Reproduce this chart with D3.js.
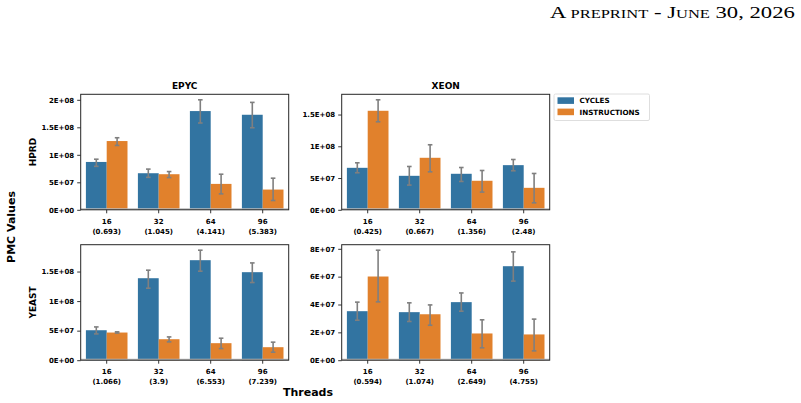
<!DOCTYPE html>
<html>
<head>
<meta charset="utf-8">
<script src="https://cdn.jsdelivr.net/npm/d3@7"></script>
<style>
  body { margin: 0; background: #fff; }
  svg { display: block; }
  text { font-family: "DejaVu Sans", sans-serif; font-weight: bold; fill: #000; }
</style>
</head>
<body>
<svg id="chart" width="801" height="403"></svg>
<script>
// ---- data ----
var threads = ["16", "32", "64", "96"];
var seriesNames = ["CYCLES", "INSTRUCTIONS"];
var seriesColors = ["#3274a1", "#e1812c"];

// HPRD / EPYC
var hprdEpycSpeed = ["0.693", "1.045", "4.141", "5.383"];
var hprdEpycCycles = [0.87e8, 0.665e8, 1.795e8, 1.728e8];
var hprdEpycCyclesErr = [[0.79e8, 0.92e8], [0.59e8, 0.74e8], [1.578e8, 2.0e8], [1.492e8, 1.953e8]];
var hprdEpycInstr = [1.25e8, 0.647e8, 0.471e8, 0.368e8];
var hprdEpycInstrErr = [[1.17e8, 1.31e8], [0.586e8, 0.695e8], [0.29e8, 0.647e8], [0.169e8, 0.575e8]];
var hprdEpycTicks = [0, 5e7, 1e8, 1.5e8, 2e8];
var hprdEpycTickLabels = ["0E+00", "5E+07", "1E+08", "1.5E+08", "2E+08"];

// HPRD / XEON
var hprdXeonSpeed = ["0.425", "0.667", "1.356", "2.48"];
var hprdXeonCycles = [0.661e8, 0.535e8, 0.567e8, 0.703e8];
var hprdXeonCyclesErr = [[0.583e8, 0.74e8], [0.389e8, 0.682e8], [0.446e8, 0.666e8], [0.614e8, 0.792e8]];
var hprdXeonInstr = [1.559e8, 0.819e8, 0.457e8, 0.346e8];
var hprdXeonInstrErr = [[1.386e8, 1.732e8], [0.598e8, 1.024e8], [0.279e8, 0.619e8], [0.11e8, 0.572e8]];
var hprdXeonTicks = [0, 5e7, 1e8, 1.5e8];
var hprdXeonTickLabels = ["0E+00", "5E+07", "1E+08", "1.5E+08"];

// YEAST / EPYC
var yeastEpycSpeed = ["1.066", "3.9", "6.553", "7.239"];
var yeastEpycCycles = [0.507e8, 1.387e8, 1.692e8, 1.489e8];
var yeastEpycCyclesErr = [[0.445e8, 0.563e8], [1.218e8, 1.523e8], [1.506e8, 1.861e8], [1.314e8, 1.646e8]];
var yeastEpycInstr = [0.468e8, 0.355e8, 0.288e8, 0.22e8];
var yeastEpycInstrErr = [[0.46e8, 0.48e8], [0.31e8, 0.394e8], [0.197e8, 0.372e8], [0.135e8, 0.305e8]];
var yeastEpycTicks = [0, 5e7, 1e8, 1.5e8];
var yeastEpycTickLabels = ["0E+00", "5E+07", "1E+08", "1.5E+08"];

// YEAST / XEON
var yeastXeonSpeed = ["0.594", "1.074", "2.649", "4.755"];
var yeastXeonCycles = [3.52e7, 3.45e7, 4.17e7, 6.75e7];
var yeastXeonCyclesErr = [[2.87e7, 4.17e7], [2.78e7, 4.12e7], [3.52e7, 4.83e7], [5.68e7, 7.78e7]];
var yeastXeonInstr = [6.01e7, 3.3e7, 1.92e7, 1.85e7];
var yeastXeonInstrErr = [[4.19e7, 7.9e7], [2.51e7, 3.97e7], [0.89e7, 2.9e7], [0.67e7, 2.95e7]];
var yeastXeonTicks = [0, 2e7, 4e7, 6e7, 8e7];
var yeastXeonTickLabels = ["0E+00", "2E+07", "4E+07", "6E+07", "8E+07"];

// header pieces: [text, isSmallCap]
var headerParts = [["A", false], [" preprint", true], [" - J", false], ["une", true], [" 30, 2026", false]];

// ---- layout ----
var colX = [80.7, 341.7], panelW = 208;
var rowY = [94.3, 244.7], panelH = 115.5;

var panels = [
    {row: 0, col: 0, title: "EPYC", ylabel: "HPRD", speed: hprdEpycSpeed,
        vals: [hprdEpycCycles, hprdEpycInstr], errs: [hprdEpycCyclesErr, hprdEpycInstrErr],
        ticks: hprdEpycTicks, tickLabels: hprdEpycTickLabels},
    {row: 0, col: 1, title: "XEON", speed: hprdXeonSpeed,
        vals: [hprdXeonCycles, hprdXeonInstr], errs: [hprdXeonCyclesErr, hprdXeonInstrErr],
        ticks: hprdXeonTicks, tickLabels: hprdXeonTickLabels},
    {row: 1, col: 0, ylabel: "YEAST", speed: yeastEpycSpeed,
        vals: [yeastEpycCycles, yeastEpycInstr], errs: [yeastEpycCyclesErr, yeastEpycInstrErr],
        ticks: yeastEpycTicks, tickLabels: yeastEpycTickLabels},
    {row: 1, col: 1, speed: yeastXeonSpeed,
        vals: [yeastXeonCycles, yeastXeonInstr], errs: [yeastXeonCyclesErr, yeastXeonInstrErr],
        ticks: yeastXeonTicks, tickLabels: yeastXeonTickLabels}
];

var svg = d3.select("#chart");

// header (the page is stretched sideways in the original, so scale it to fit)
var header = svg.append("text")
    .attr("text-anchor", "start")
    .style("font-family", "'Liberation Serif', 'DejaVu Serif', serif")
    .style("font-weight", "normal")
    .style("white-space", "pre");
headerParts.forEach(function (part) {
    header.append("tspan")
        .style("font-size", part[1] ? "12px" : "16.5px")
        .text(part[1] ? part[0].toUpperCase() : part[0]);
});
var natural = header.node().getComputedTextLength();
var sx = 245 / natural;
header.attr("transform", "translate(550,18.3) scale(" + sx + ",1)");

panels.forEach(function (p) {
    var x0 = colX[p.col], y0 = rowY[p.row];
    var g = svg.append("g").attr("transform", "translate(" + x0 + "," + y0 + ")");

    var maxErr = d3.max(p.errs, function (s) {
        return d3.max(s, function (e) { return e[1]; });
    });
    var y = d3.scaleLinear().domain([0, maxErr * 1.05]).range([panelH, 0]);
    var x = d3.scaleBand().domain(threads).range([0, panelW]).paddingInner(0.2).paddingOuter(0.1);
    var xs = d3.scaleBand().domain([0, 1]).range([0, x.bandwidth()]);

    // bars
    p.vals.forEach(function (vals, si) {
        g.selectAll(".bar" + si)
            .data(vals)
            .enter().append("rect")
            .attr("x", function (d, i) { return x(threads[i]) + xs(si); })
            .attr("y", function (d) { return y(d); })
            .attr("width", xs.bandwidth())
            .attr("height", function (d) { return panelH - y(d); })
            .attr("fill", seriesColors[si]);
    });

    // baseline shading
    g.append("line")
        .attr("x1", 0).attr("x2", panelW)
        .attr("y1", y(0) - 0.8).attr("y2", y(0) - 0.8)
        .attr("stroke", "#bdbdbd").attr("stroke-width", 1.5);

    // error bars
    p.errs.forEach(function (errs, si) {
        var eg = g.selectAll(".err" + si)
            .data(errs)
            .enter().append("g")
            .attr("transform", function (d, i) {
                return "translate(" + (x(threads[i]) + xs(si) + xs.bandwidth() / 2) + ",0)";
            });
        eg.append("line")
            .attr("y1", function (d) { return y(d[0]); })
            .attr("y2", function (d) { return y(d[1]); })
            .attr("stroke", "#7f7f7f").attr("stroke-width", 1.6);
        [0, 1].forEach(function (k) {
            eg.append("line")
                .attr("x1", -2.3).attr("x2", 2.3)
                .attr("y1", function (d) { return y(d[k]); })
                .attr("y2", function (d) { return y(d[k]); })
                .attr("stroke", "#7f7f7f").attr("stroke-width", 1.6);
        });
    });

    // y axis
    var yAxis = d3.axisLeft(y)
        .tickValues(p.ticks)
        .tickFormat(function (d, i) { return p.tickLabels[i]; })
        .tickSize(3.5).tickPadding(3);
    var ya = g.append("g").call(yAxis);
    ya.select(".domain").remove();
    ya.selectAll("line").attr("stroke", "#000").attr("stroke-width", 0.8);
    ya.selectAll("text").style("font-size", "7px").style("font-family", "DejaVu Sans").style("font-weight", "bold");

    // x axis
    var xAxis = d3.axisBottom(x).tickSize(3.5).tickPadding(2).tickFormat("");
    var xa = g.append("g").attr("transform", "translate(0," + panelH + ")").call(xAxis);
    xa.select(".domain").remove();
    xa.selectAll("line").attr("stroke", "#000").attr("stroke-width", 0.8);
    threads.forEach(function (t, i) {
        var cx = x(t) + x.bandwidth() / 2;
        var tl = g.append("text")
            .attr("x", cx)
            .attr("text-anchor", "middle")
            .style("font-size", "7px");
        tl.append("tspan").attr("x", cx).attr("y", panelH + 13.8).text(t);
        tl.append("tspan").attr("x", cx).attr("y", panelH + 23.8).text("(" + p.speed[i] + ")");
    });

    // frame
    g.append("rect")
        .attr("width", panelW).attr("height", panelH)
        .attr("fill", "none").attr("stroke", "#262626").attr("stroke-width", 1);

    if (p.title) {
        g.append("text")
            .attr("x", panelW / 2).attr("y", -5)
            .attr("text-anchor", "middle")
            .style("font-size", "9px")
            .text(p.title);
    }
    if (p.ylabel) {
        g.append("text")
            .attr("transform", "translate(" + (36.5 - x0) + "," + (panelH / 2) + ") rotate(-90)")
            .attr("text-anchor", "middle")
            .style("font-size", "9px")
            .text(p.ylabel);
    }
});

// shared labels
svg.append("text")
    .attr("transform", "translate(15,227) rotate(-90)")
    .attr("text-anchor", "middle")
    .style("font-size", "11px")
    .text("PMC Values");

svg.append("text")
    .attr("x", 308).attr("y", 396)
    .attr("text-anchor", "middle")
    .style("font-size", "11px")
    .text("Threads");

// legend
var legend = svg.append("g").attr("transform", "translate(554,94)");
legend.append("rect")
    .attr("width", 95.5).attr("height", 26.5).attr("rx", 1.5)
    .attr("fill", "#fff").attr("stroke", "#d6d6d6").attr("stroke-width", 0.8);
var li = legend.selectAll(".li")
    .data(seriesNames)
    .enter().append("g")
    .attr("transform", function (d, i) { return "translate(0," + (i * 11.3) + ")"; });
li.append("rect")
    .attr("x", 3.5).attr("y", 3.3)
    .attr("width", 16.5).attr("height", 6.6)
    .attr("fill", function (d, i) { return seriesColors[i]; });
li.append("text")
    .attr("x", 25.5).attr("y", 9.4)
    .style("font-size", "7.2px")
    .text(function (d) { return d; });
</script>
</body>
</html>
